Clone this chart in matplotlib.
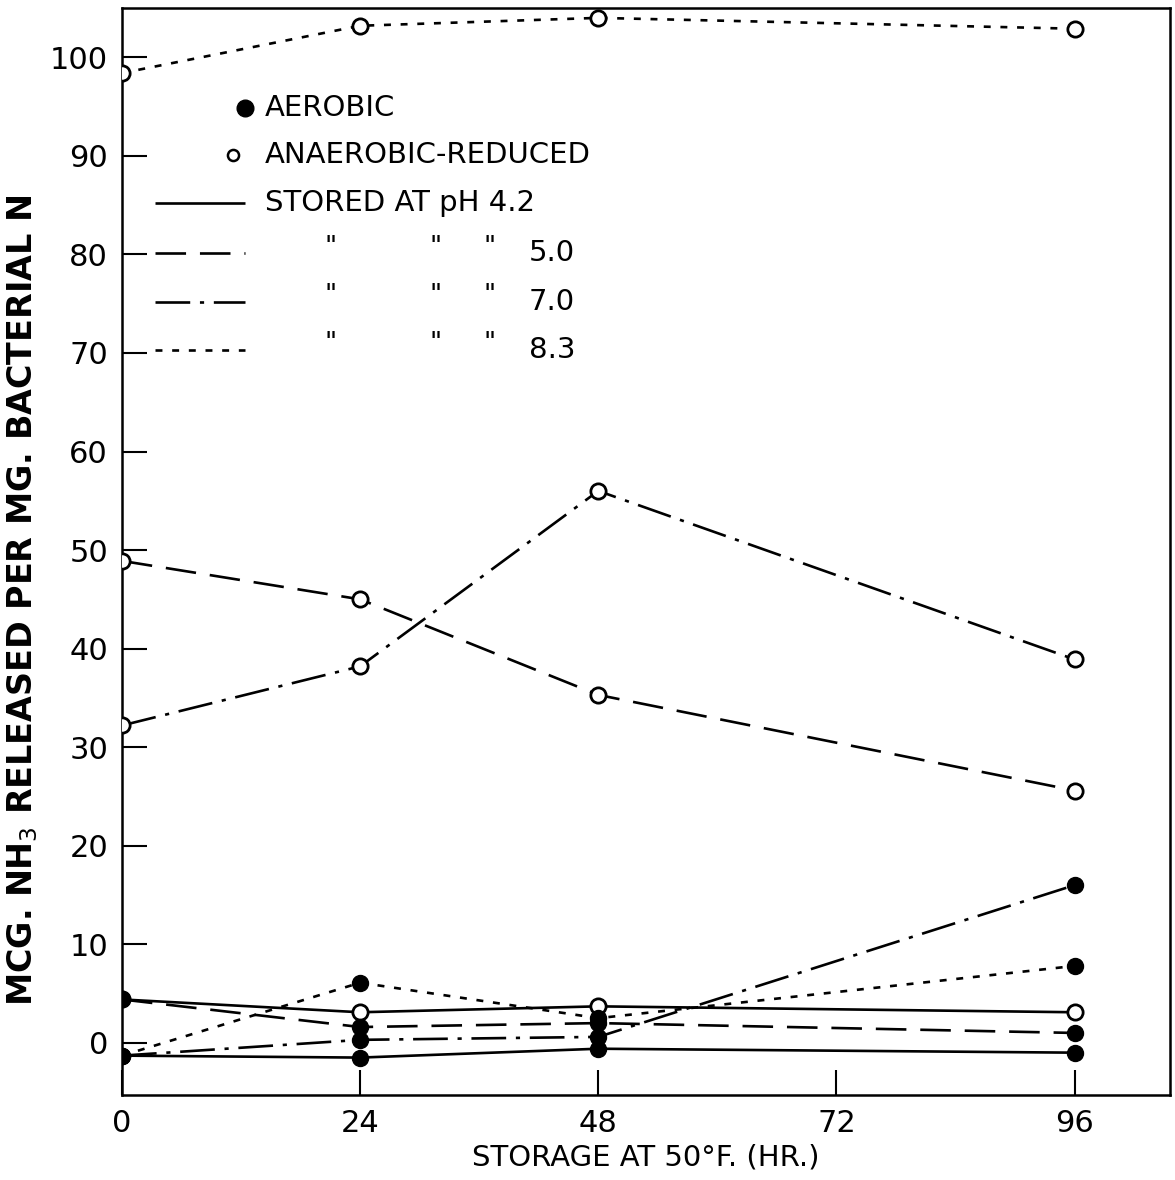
import matplotlib
matplotlib.use("Agg")
import matplotlib.pyplot as plt

plt.rcParams['lines.scale_dashes'] = False
plt.rcParams['font.family'] = ['DejaVu Sans']

hours = [0, 24, 48, 96]
x_ticks = [0, 24, 48, 72, 96]
y_ticks = [0, 10, 20, 30, 40, 50, 60, 70, 80, 90, 100]

# Anaerobic-reduced (open circles)
anaer_ph42 = [4.4, 3.1, 3.7, 3.1]
anaer_ph50 = [48.9, 45.0, 35.3, 25.6]
anaer_ph70 = [32.2, 38.2, 56.0, 38.9]
anaer_ph83 = [98.4, 103.2, 104.0, 102.9]

# Aerobic (filled circles)
aer_ph42 = [-1.3, -1.5, -0.6, -1.0]
aer_ph50 = [4.4, 1.6, 2.0, 1.0]
aer_ph70 = [-1.3, 0.3, 0.6, 16.0]
aer_ph83 = [-1.3, 6.1, 2.5, 7.8]

ph_labels = ["4.2", "5.0", "7.0", "8.3"]

LW = 1.9
styles = {
    "4.2": (0, ()),
    "5.0": (0, (22, 10)),
    "7.0": (0, (25, 7, 3, 7)),
    "8.3": (0, (5, 7)),
}

fig = plt.figure(figsize=(11.75, 11.8), dpi=100)
ax = fig.add_axes([0.1038, 0.072, 0.8919, 0.9212])

anaer = [anaer_ph42, anaer_ph50, anaer_ph70, anaer_ph83]
aer = [aer_ph42, aer_ph50, aer_ph70, aer_ph83]

for ph, vals in zip(ph_labels, anaer):
    ax.plot(hours, vals, color='black', lw=LW, linestyle=styles[ph], zorder=2)
for ph, vals in zip(ph_labels, aer):
    ax.plot(hours, vals, color='black', lw=LW, linestyle=styles[ph], zorder=2)
for vals in anaer:
    ax.plot(hours, vals, linestyle='none', marker='o', ms=11, mfc='white',
            mec='black', mew=2.0, zorder=3)
for vals in aer:
    ax.plot(hours, vals, linestyle='none', marker='o', ms=11.5, mfc='black',
            mec='black', mew=1.0, zorder=4)

ax.set_xlim(0, 105.6)
ax.set_ylim(-5.3, 105.0)
ax.set_xticks(x_ticks)
ax.set_xticklabels([str(v) for v in x_ticks])
ax.set_yticks(y_ticks)
ax.set_yticklabels([str(v) for v in y_ticks])
ax.tick_params(axis='both', direction='in', length=18, width=1.5, labelsize=22)
ax.tick_params(axis='x', pad=10)
ax.tick_params(axis='y', pad=10)
for s in ax.spines.values():
    s.set_linewidth(1.8)

ax.set_xlabel("STORAGE AT 50°F. (HR.)", fontsize=21, labelpad=4)
ax.set_ylabel("MCG. NH$_3$ RELEASED PER MG. BACTERIAL N", fontsize=24,
              fontweight='bold')
ax.yaxis.set_label_coords(-0.078, 0.455)

# Legend (drawn manually)
fs = 21
ax.plot([12.4], [94.9], marker='o', ms=12, mfc='black', mec='black',
        linestyle='none', clip_on=False)
ax.text(14.4, 94.9, "AEROBIC", fontsize=fs, va='center', ha='left')
ax.plot([11.2], [90.1], marker='o', ms=8, mfc='white', mec='black', mew=1.8,
        linestyle='none', clip_on=False)
ax.text(14.4, 90.1, "ANAEROBIC-REDUCED", fontsize=fs, va='center', ha='left')

leg_y = [85.2, 80.1, 75.2, 70.3]
for i, (ph, yy) in enumerate(zip(ph_labels, leg_y)):
    ax.plot([3.3, 12.4], [yy, yy], color='black', lw=LW, linestyle=styles[ph])
    if i == 0:
        ax.text(14.4, yy, "STORED AT pH " + ph, fontsize=fs, va='center', ha='left')
    else:
        for xx in [21.0, 31.6, 37.0]:
            ax.text(xx, yy + 0.6, '"', fontsize=fs - 2, va='center', ha='center')
        ax.text(41.0, yy, ph, fontsize=fs, va='center', ha='left')

fig.savefig("out.png", dpi=100, facecolor='white')
